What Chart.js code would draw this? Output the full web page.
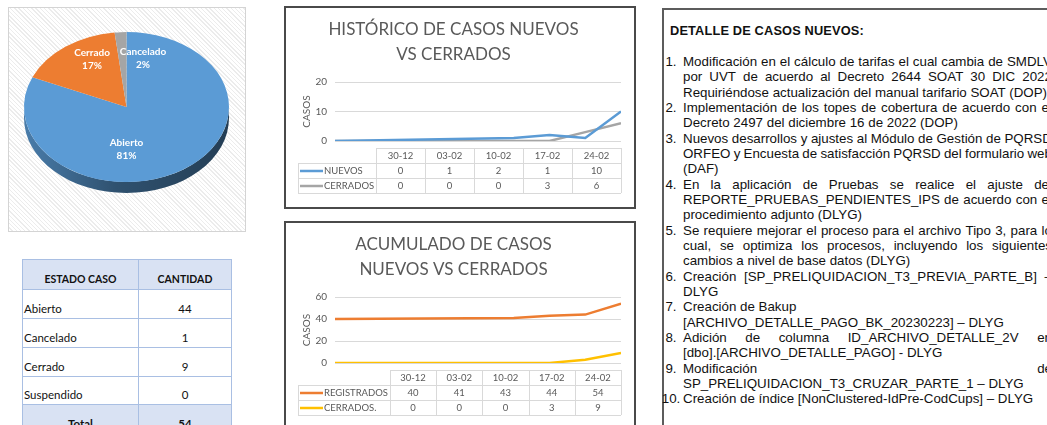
<!DOCTYPE html>
<html lang="es">
<head>
<meta charset="utf-8">
<title>Seguimiento de casos</title>
<script src="https://cdn.jsdelivr.net/npm/chart.js@4.4.1/dist/chart.umd.min.js"></script>
<style>
  html, body { margin: 0; padding: 0; background: #fff; }
  body { width: 1047px; height: 425px; overflow: hidden; position: relative; font-family: Lato, "Open Sans", sans-serif; }
  .abs { position: absolute; }
  #piePanel { left: 8px; top: 7px; width: 236px; height: 223px; border: 1px solid #d4d4d4;
    background: repeating-linear-gradient(45deg, #ffffff 0 2px, #ececec 2px 3px); }
  #pieCanvas { position: absolute; left: 0; top: 0; }
  #estado { left: 22px; top: 259px; border-collapse: collapse; table-layout: fixed; font-size: 11.5px; color: #111; }
  #estado td, #estado th { border: 1px solid #a9bfe3; padding: 0 1px 3px 1px; vertical-align: bottom; line-height: 13px; }
  #estado th { background: #d9e2f3; font-weight: bold; text-align: center; font-size: 10.5px; }
  #estado td.v { text-align: center; }
  #estado tr.tot td { background: #d9e2f3; font-weight: bold; text-align: center; }
  .panel { border: 2px solid #4a4a4a; box-sizing: border-box; }
  #p1 { left: 284px; top: 6px; width: 352px; height: 203px; }
  #p2 { left: 284px; top: 221px; width: 352px; height: 230px; }
  #c1, #c2 { position: absolute; left: 0; top: 0; }
  #detalle { left: 662px; top: 8px; width: 420px; height: 440px; border: 2px solid #5c5c5c; box-sizing: border-box;
    font-family: "Liberation Sans", Arial, sans-serif; font-size: 13.33px; color: #111; }
  #detalle .ttl { position: absolute; left: 6px; top: 13px; font-weight: bold; font-size: 12.8px; letter-spacing: 0.15px; line-height: 15.33px; white-space: nowrap; }
  #lista { position: absolute; left: 0; top: 44px; line-height: 15.33px; }
  .ln { position: relative; height: 15.33px; white-space: nowrap; }
  .ln .num { position: absolute; left: 0; width: 14px; display: flex; justify-content: center; }
  .ln .tx { position: absolute; left: 19px; width: 369px; }
  .ln .tx.j { display: flex; justify-content: space-between; }
</style>
</head>
<body>
<div id="piePanel" class="abs"><canvas id="pieCanvas" width="236" height="223"></canvas></div>
<table id="estado" class="abs"></table>
<div id="p1" class="abs panel"><canvas id="c1" width="348" height="199"></canvas></div>
<div id="p2" class="abs panel"><canvas id="c2" width="348" height="226"></canvas></div>
<div id="detalle" class="abs"><div class="ttl">DETALLE DE CASOS NUEVOS:</div><div id="lista"></div></div>

<script>
// ---- Estado de los casos ----
const estados = ['Abierto', 'Cancelado', 'Cerrado', 'Suspendido'];
const cantidades = [44, 1, 9, 0];
const encabezados = ['ESTADO CASO', 'CANTIDAD'];

// Orden de las porciones en la torta
const tortaEstados = ['Abierto', 'Cerrado', 'Cancelado'];
const tortaColores = ['#5b9bd5', '#ed7d31', '#a5a5a5'];

// ---- Series semanales ----
const fechas = ['2022-12-30', '2023-02-03', '2023-02-10', '2023-02-17', '2023-02-24'];
const fechaEtiquetas = ['30-12', '03-02', '10-02', '17-02', '24-02'];
const nuevos = [0, 1, 2, 1, 10];
const cerrados = [0, 0, 0, 3, 6];
const registradosAcum = [40, 41, 43, 44, 54];
const cerradosAcum = [0, 0, 0, 3, 9];

// ---- Detalle de casos nuevos ----
const detalleCasos = [
  ['Modificación en el cálculo de tarifas el cual cambia de SMDLV', 'por UVT de acuerdo al Decreto 2644 SOAT 30 DIC 2022', 'Requiriéndose actualización del manual tarifario SOAT (DOP)'],
  ['Implementación de los topes de cobertura de acuerdo con el', 'Decreto 2497 del diciembre 16 de 2022 (DOP)'],
  ['Nuevos desarrollos y ajustes al Módulo de Gestión de PQRSD', 'ORFEO y Encuesta de satisfacción PQRSD del formulario web', '(DAF)'],
  ['En la aplicación de Pruebas se realice el ajuste del', 'REPORTE_PRUEBAS_PENDIENTES_IPS de acuerdo con el', 'procedimiento adjunto (DLYG)'],
  ['Se requiere mejorar el proceso para el archivo Tipo 3, para lo', 'cual, se optimiza los procesos, incluyendo los siguientes', 'cambios a nivel de base datos (DLYG)'],
  ['Creación [SP_PRELIQUIDACION_T3_PREVIA_PARTE_B] –', 'DLYG'],
  ['Creación de Bakup', '[ARCHIVO_DETALLE_PAGO_BK_20230223] – DLYG'],
  ['Adición de columna ID_ARCHIVO_DETALLE_2V en', '[dbo].[ARCHIVO_DETALLE_PAGO] - DLYG'],
  ['Modificación de', 'SP_PRELIQUIDACION_T3_CRUZAR_PARTE_1 – DLYG'],
  ['Creación de índice [NonClustered-IdPre-CodCups] – DLYG']
];
// líneas cortadas con salto manual (no se justifican)
const saltosManuales = new Set(['6-0']);

Chart.defaults.font.family = 'Lato, "Open Sans", sans-serif';
Chart.defaults.color = '#595959';

// ---- Tabla de estados ----
(function () {
  const t = document.getElementById('estado');
  const colW = [116, 93];
  let html = '<colgroup><col style="width:' + colW[0] + 'px"><col style="width:' + colW[1] + 'px"></colgroup>';
  html += '<tr style="height:30px"><th>' + encabezados[0] + '</th><th>' + encabezados[1] + '</th></tr>';
  const alturas = [29, 29, 29, 28];
  estados.forEach((e, i) => {
    html += '<tr style="height:' + alturas[i] + 'px"><td>' + e + '</td><td class="v">' + cantidades[i] + '</td></tr>';
  });
  const total = cantidades.reduce((a, b) => a + b, 0);
  html += '<tr class="tot" style="height:29px"><td>Total</td><td>' + total + '</td></tr>';
  t.innerHTML = html;
})();

// ---- Lista de detalle ----
(function () {
  const lista = document.getElementById('lista');
  detalleCasos.forEach((lineas, i) => {
    lineas.forEach((texto, k) => {
      const ln = document.createElement('div');
      ln.className = 'ln';
      if (k === 0) {
        const n = document.createElement('span');
        n.className = 'num';
        n.textContent = (i + 1) + '.';
        ln.appendChild(n);
      }
      const tx = document.createElement('div');
      tx.className = 'tx';
      const justificar = k < lineas.length - 1 && !saltosManuales.has(i + '-' + k);
      if (justificar) {
        tx.classList.add('j');
        texto.split(' ').forEach(w => {
          const s = document.createElement('span');
          s.textContent = w;
          tx.appendChild(s);
        });
      } else {
        tx.textContent = texto;
      }
      ln.appendChild(tx);
      lista.appendChild(ln);
    });
  });
})();

// ---- Torta 3D ----
function sombra(hex, f) {
  const n = parseInt(hex.slice(1), 16);
  const r = Math.round(((n >> 16) & 255) * f);
  const g = Math.round(((n >> 8) & 255) * f);
  const b = Math.round((n & 255) * f);
  return 'rgb(' + r + ',' + g + ',' + b + ')';
}

const torta3D = {
  id: 'torta3D',
  beforeDatasetsDraw(chart, args, o) {
    const ctx = chart.ctx;
    const arcs = chart.getDatasetMeta(0).data;
    const cx = arcs[0].x, cy = arcs[0].y, r = arcs[0].outerRadius;
    const cyT = o.top + r * o.tilt;
    ctx.save();
    ctx.translate(0, cyT);
    ctx.scale(1, o.tilt);
    ctx.translate(0, -cy);
    const d = o.depth / o.tilt;
    const colores = chart.data.datasets[0].backgroundColor;
    arcs.forEach((arc, i) => {
      for (const k of [-2, 0, 2]) {
        const s = Math.max(arc.startAngle, k * Math.PI);
        const e = Math.min(arc.endAngle, k * Math.PI + Math.PI);
        if (e <= s) continue;
        const g = ctx.createLinearGradient(cx - r, 0, cx + r, 0);
        g.addColorStop(0, sombra(colores[i], 0.8));
        g.addColorStop(0.45, sombra(colores[i], 0.52));
        g.addColorStop(1, sombra(colores[i], 0.4));
        ctx.beginPath();
        ctx.arc(cx, cy, r, s, e);
        ctx.arc(cx, cy + d, r, e, s, true);
        ctx.closePath();
        ctx.fillStyle = g;
        ctx.fill();
      }
    });
  },
  afterDatasetsDraw(chart, args, o) {
    const ctx = chart.ctx;
    ctx.restore();
    const arcs = chart.getDatasetMeta(0).data;
    const cx = arcs[0].x, r = arcs[0].outerRadius;
    const cyT = o.top + r * o.tilt;
    const data = chart.data.datasets[0].data;
    const total = data.reduce((a, b) => a + b, 0);
    ctx.save();
    ctx.fillStyle = '#ffffff';
    ctx.font = 'bold 10px Lato, "Open Sans", sans-serif';
    ctx.textAlign = 'center';
    ctx.textBaseline = 'middle';
    arcs.forEach((arc, i) => {
      const off = o.labelOffsets[i];
      const x = cx + off[0], y = cyT + off[1];
      ctx.fillText(chart.data.labels[i], x, y - 6.3);
      ctx.fillText(Math.round(data[i] / total * 100) + '%', x, y + 6.3);
    });
    ctx.restore();
  }
};

new Chart(document.getElementById('pieCanvas'), {
  type: 'pie',
  data: {
    labels: tortaEstados,
    datasets: [{
      data: tortaEstados.map(e => cantidades[estados.indexOf(e)]),
      backgroundColor: tortaColores,
      borderWidth: 0
    }]
  },
  options: {
    responsive: false,
    animation: false,
    devicePixelRatio: 1,
    layout: { padding: { left: 15, right: 16, top: 9, bottom: 9 } },
    plugins: {
      legend: { display: false },
      tooltip: { enabled: false },
      torta3D: { tilt: 0.732, depth: 11, top: 24, labelOffsets: [[0, 42], [-34.5, -47.5], [16.5, -49]] }
    }
  },
  plugins: [torta3D]
});

// ---- Tabla de datos bajo los gráficos de líneas ----
const tablaDatos = {
  id: 'tablaDatos',
  afterDraw(chart, args, o) {
    const ctx = chart.ctx;
    const a = chart.chartArea;
    const ds = chart.data.datasets;
    ctx.save();
    ctx.font = o.fontSize + 'px Lato, "Open Sans", sans-serif';
    const anchoEtiqueta = o.keyWidth + Math.max(...ds.map(d => ctx.measureText(d.label).width)) + 2;
    const left = Math.round(a.left - o.labelInset);
    const colLeft = Math.round(left + anchoEtiqueta);
    const right = Math.round(a.right);
    const n = o.columns.length;
    const colW = (right - colLeft) / n;
    const top = Math.round(a.bottom + o.gap);
    const rh = o.rowHeight;
    const rows = ds.length + 1;

    ctx.strokeStyle = o.gridColor;
    ctx.lineWidth = 1;
    ctx.beginPath();
    // horizontales
    ctx.moveTo(colLeft, top + 0.5); ctx.lineTo(right, top + 0.5);
    for (let r = 1; r <= rows; r++) {
      const y = Math.round(top + r * rh) + 0.5;
      ctx.moveTo(left, y); ctx.lineTo(right, y);
    }
    // verticales
    for (let c = 0; c <= n; c++) {
      const x = Math.round(colLeft + c * colW) + 0.5;
      ctx.moveTo(x, top); ctx.lineTo(x, top + rows * rh);
    }
    ctx.moveTo(left + 0.5, top + rh); ctx.lineTo(left + 0.5, top + rows * rh);
    ctx.stroke();

    ctx.fillStyle = o.color;
    ctx.textBaseline = 'middle';
    ctx.textAlign = 'center';
    o.columns.forEach((c, j) => ctx.fillText(c, colLeft + (j + 0.5) * colW, top + rh / 2 + 0.5));
    ds.forEach((d, i) => {
      const yc = top + (i + 1.5) * rh + 0.5;
      ctx.strokeStyle = d.borderColor;
      ctx.lineWidth = d.borderWidth;
      ctx.beginPath();
      ctx.moveTo(left + 2, yc); ctx.lineTo(left + o.keyWidth - 1, yc);
      ctx.stroke();
      ctx.fillStyle = o.color;
      ctx.textAlign = 'left';
      ctx.fillText(d.label, left + o.keyWidth, yc);
      ctx.textAlign = 'center';
      d.data.forEach((p, j) => ctx.fillText(String(p.y), colLeft + (j + 0.5) * colW, yc));
    });
    ctx.restore();
  }
};

const dias = fechas.map(f => Math.round((Date.parse(f) - Date.parse(fechas[0])) / 86400000));
const puntos = serie => serie.map((v, i) => ({ x: dias[i], y: v }));

function graficoLineas(id, titulo, series, yMax, yPaso, altoTabla) {
  return new Chart(document.getElementById(id), {
    type: 'line',
    data: {
      datasets: series.map(s => ({
        label: s.label,
        data: puntos(s.data),
        borderColor: s.color,
        borderWidth: 2.5,
        pointRadius: 0,
        tension: 0,
        fill: false
      }))
    },
    options: {
      responsive: false,
      animation: false,
      devicePixelRatio: 1,
      layout: { padding: { left: 0, right: 13, top: 0, bottom: 0 } },
      plugins: {
        legend: { display: false },
        tooltip: { enabled: false },
        title: {
          display: true,
          text: titulo,
          color: '#595959',
          font: { size: 17, weight: 'normal', lineHeight: 25 / 17 },
          padding: { top: 9.5, bottom: 14.5 }
        },
        tablaDatos: { columns: fechaEtiquetas, keyWidth: 26, labelInset: 37, gap: 7, rowHeight: 15, fontSize: 9.5, color: '#595959', gridColor: '#d9d9d9' }
      },
      scales: {
        x: {
          type: 'linear',
          min: dias[0],
          max: dias[dias.length - 1],
          ticks: { display: false },
          grid: { display: false },
          border: { display: false },
          afterFit(s) { s.height = altoTabla; }
        },
        y: {
          min: 0,
          max: yMax,
          ticks: { stepSize: yPaso, color: '#595959', font: { size: 10 }, padding: 8 },
          grid: { color: '#d9d9d9', drawTicks: false },
          border: { display: false },
          title: { display: true, text: 'CASOS', color: '#595959', font: { size: 10 }, padding: { top: 15, bottom: 0 } },
          afterFit(s) { s.width = 49; }
        }
      }
    },
    plugins: [tablaDatos]
  });
}

graficoLineas('c1', ['HISTÓRICO DE CASOS NUEVOS', 'VS CERRADOS'], [
  { label: 'NUEVOS', data: nuevos, color: '#5b9bd5' },
  { label: 'CERRADOS', data: cerrados, color: '#a5a5a5' }
], 20, 10, 66);

graficoLineas('c2', ['ACUMULADO DE CASOS', 'NUEVOS VS CERRADOS'], [
  { label: 'REGISTRADOS', data: registradosAcum, color: '#ed7d31' },
  { label: 'CERRADOS.', data: cerradosAcum, color: '#ffc000' }
], 60, 20, 86);
</script>
</body>
</html>
